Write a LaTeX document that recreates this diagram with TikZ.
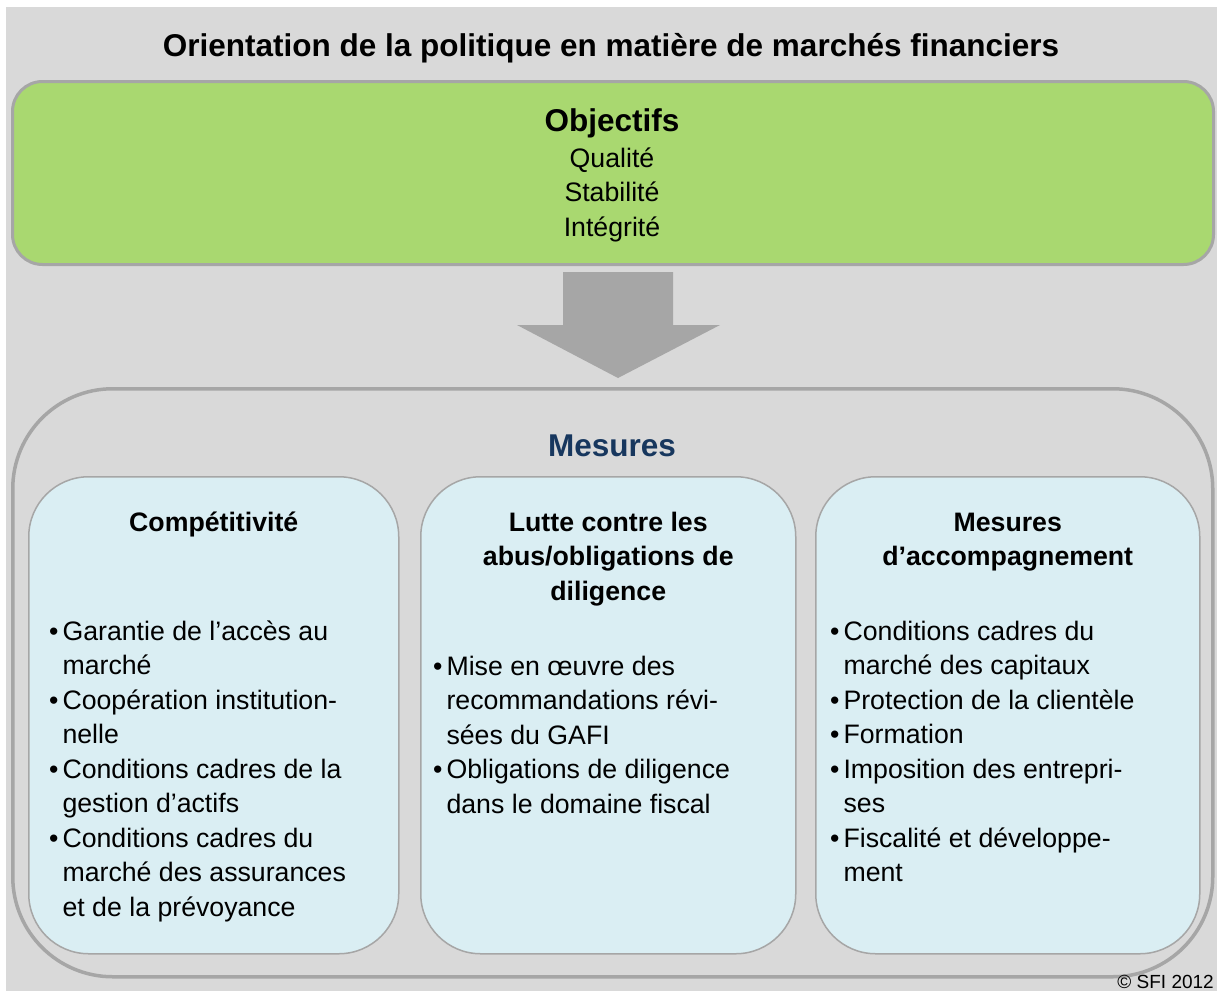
\documentclass[tikz,border=0pt]{standalone}
\usepackage{fontspec}
\setmainfont{Liberation Sans}
\usepackage{xcolor}
\definecolor{bggrey}{RGB}{217,217,217}
\definecolor{edgegrey}{RGB}{166,166,166}
\definecolor{objgreen}{RGB}{169,216,112}
\definecolor{panelblue}{RGB}{218,238,243}
\definecolor{navy}{RGB}{23,55,94}
\newcommand\bodyfont{\fontsize{26.7}{34.5}\selectfont}
\newcommand\headfont{\bfseries\fontsize{31.5}{36}\selectfont}
\tikzstyle{objbox} = [
    rectangle,
    rounded corners=30pt,
    anchor=north west,
    inner sep=0pt,
    draw=edgegrey,
    line width=3pt,
    fill=objgreen
]
\tikzstyle{outerbox} = [
    rectangle,
    rounded corners=100pt,
    anchor=north west,
    inner sep=0pt,
    draw=edgegrey,
    line width=3.5pt
]
\tikzstyle{panel} = [
    rectangle,
    rounded corners=60pt,
    anchor=north west,
    inner sep=0pt,
    minimum height=477pt,
    draw=edgegrey,
    line width=1.5pt,
    fill=panelblue
]
\tikzstyle{heading} = [
    anchor=base,
    inner sep=0pt,
    font=\headfont
]
\tikzstyle{paneltitle} = [
    anchor=base,
    inner sep=0pt,
    font=\bfseries\bodyfont
]
\tikzstyle{items} = [
    anchor=base west,
    inner sep=0pt,
    font=\bodyfont
]

\begin{document}
\begin{tikzpicture}[x=1pt, y=-1pt]
    \useasboundingbox (0,0) rectangle (1217,991);
    \fill[bggrey] (6,7) rectangle (1217,991);

    \node[heading] (title) at (611,56) {Orientation de la politique en matière de marchés financiers};

    % objectifs
    \node[objbox, minimum width=1201pt, minimum height=183pt] (obj) at (11,80) {};
    \node[heading] (objtitle) at (612,131) {Objectifs};
    \node[anchor=base, inner sep=0pt, font=\bodyfont] (objlist) at (612,167) {%
        \begin{tabular}[t]{@{}c@{}}
            Qualité\\
            Stabilité\\
            Intégrité
        \end{tabular}};

    % mesures
    \node[outerbox, minimum width=1200pt, minimum height=588pt] (mes) at (11,387) {};
    \fill[edgegrey] (563,272) -- (673,272) -- (673,325) -- (720,325)
        -- (618,378) -- (517,325) -- (563,325) -- cycle;
    \node[heading, text=navy] (mestitle) at (612,456) {Mesures};

    \node[panel, minimum width=370pt] (comp) at (28,476) {};
    \node[panel, minimum width=375pt] (abus) at (420,476) {};
    \node[panel, minimum width=384pt] (accomp) at (815,476) {};

    \node[paneltitle] (comptitle) at (comp.north |- 0,531) {%
        \begin{tabular}[t]{@{}c@{}}
            Compétitivité
        \end{tabular}};
    \node[paneltitle] (abustitle) at (abus.north |- 0,531) {%
        \begin{tabular}[t]{@{}c@{}}
            Lutte contre les\\
            abus/obligations de\\
            diligence
        \end{tabular}};
    \node[paneltitle] (accomptitle) at (accomp.north |- 0,531) {%
        \begin{tabular}[t]{@{}c@{}}
            Mesures\\
            d’accompagnement
        \end{tabular}};

    \node[items] (complist) at (49,640) {%
        \begin{tabular}[t]{@{}l@{\hspace{4pt}}l@{}}
            \textbullet & Garantie de l’accès au\\
                        & marché\\
            \textbullet & Coopération institution-\\
                        & nelle\\
            \textbullet & Conditions cadres de la\\
                        & gestion d’actifs\\
            \textbullet & Conditions cadres du\\
                        & marché des assurances\\
                        & et de la prévoyance
        \end{tabular}};
    \node[items] (abuslist) at (433,675) {%
        \begin{tabular}[t]{@{}l@{\hspace{4pt}}l@{}}
            \textbullet & Mise en œuvre des\\
                        & recommandations révi-\\
                        & sées du GAFI\\
            \textbullet & Obligations de diligence\\
                        & dans le domaine fiscal
        \end{tabular}};
    \node[items] (accomplist) at (830,640) {%
        \begin{tabular}[t]{@{}l@{\hspace{4pt}}l@{}}
            \textbullet & Conditions cadres du\\
                        & marché des capitaux\\
            \textbullet & Protection de la clientèle\\
            \textbullet & Formation\\
            \textbullet & Imposition des entrepri-\\
                        & ses\\
            \textbullet & Fiscalité et développe-\\
                        & ment
        \end{tabular}};

    \node[anchor=base east, inner sep=0pt, font=\fontsize{19}{22}\selectfont] (copy) at (1214,988) {© SFI 2012};
\end{tikzpicture}
\end{document}
